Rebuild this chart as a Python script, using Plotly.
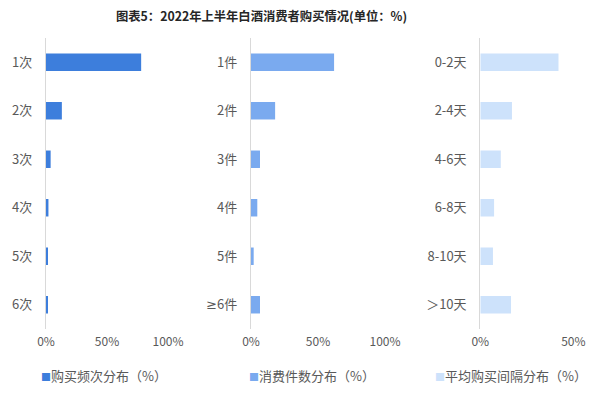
import plotly.graph_objects as go

freq_cats = ["1次", "2次", "3次", "4次", "5次", "6次"]
freq_vals = [0.78, 0.13, 0.038, 0.02, 0.01, 0.01]

qty_cats = ["1件", "2件", "3件", "4件", "5件", "≥6件"]
qty_vals = [0.62, 0.18, 0.067, 0.047, 0.02, 0.067]

gap_cats = ["0-2天", "2-4天", "4-6天", "6-8天", "8-10天", "＞10天"]
gap_vals = [0.42, 0.17, 0.11, 0.074, 0.068, 0.165]

series_names = ["购买频次分布（%）", "消费件数分布（%）", "平均购买间隔分布（%）"]
colors = ["#3d7edc", "#7aaaef", "#cde2fb"]

W, H = 600, 395
FONT = "Noto Sans CJK SC"

fig = go.Figure()
data = [(freq_cats, freq_vals), (qty_cats, qty_vals), (gap_cats, gap_vals)]
for i, (cats, vals) in enumerate(data):
    sfx = "" if i == 0 else str(i + 1)
    fig.add_trace(go.Bar(
        y=cats, x=vals, orientation="h", name=series_names[i],
        marker=dict(color=colors[i], line=dict(width=0)),
        xaxis="x" + sfx, yaxis="y" + sfx, showlegend=False,
    ))

ydom = [(H - 329) / H, (H - 38) / H]
xdoms = [(46 / W, 168 / W), (251 / W, 385 / W), (480.3 / W, 592 / W)]
xranges = [[0, 1], [0, 1], [0, 0.6]]
xticks = [[0, 0.5, 1], [0, 0.5, 1], [0, 0.5]]

layout = dict(
    width=W, height=H,
    margin=dict(l=0, r=0, t=0, b=0),
    plot_bgcolor="white", paper_bgcolor="white",
    bargap=0.64, showlegend=False,
    font=dict(family=FONT, size=12, color="#595959"),
)
for i in range(3):
    sfx = "" if i == 0 else str(i + 1)
    cats = data[i][0]
    ticktext = [c.replace("≥", "<span style='font-family:DejaVu Sans'>≥</span>") for c in cats]
    layout["xaxis" + sfx] = dict(
        domain=list(xdoms[i]), range=xranges[i], anchor="y" + sfx,
        tickvals=xticks[i], tickformat=".0%", showgrid=False, zeroline=False,
        showline=False, ticks="outside", ticklen=2, tickcolor="rgba(0,0,0,0)",
        tickfont=dict(size=12, color="#595959"), fixedrange=True,
        automargin=False,
    )
    layout["yaxis" + sfx] = dict(
        domain=ydom, anchor="x" + sfx, autorange="reversed",
        categoryorder="array", categoryarray=cats,
        tickvals=cats, ticktext=ticktext,
        showline=True, linecolor="#d9d9d9", linewidth=1.2,
        showgrid=False, zeroline=False,
        ticks="outside", ticklen=10, tickcolor="rgba(0,0,0,0)",
        tickfont=dict(size=13, color="#595959"), automargin=False,
    )

fig.update_layout(**layout)

# legend entries drawn as text: coloured square + series name
leg_x = [39, 247, 433]
for i in range(3):
    fig.add_annotation(
        text=f"<span style='color:{colors[i]};font-size:10px'>■</span>{series_names[i]}",
        x=leg_x[i] / W, y=1 - 375 / H, xref="paper", yref="paper",
        xanchor="left", yanchor="middle", showarrow=False,
        font=dict(size=13, color="#595959", family=FONT),
    )

fig.add_annotation(
    text="<b>图表5：2022年上半年白酒消费者购买情况(单位：%)</b>",
    x=261 / W, y=1 - 16 / H, xref="paper", yref="paper",
    xanchor="center", yanchor="middle", showarrow=False,
    font=dict(size=12.3, color="#262626", family=FONT),
)
fig.write_html("out.html", config={"displayModeBar": False},
               post_script="document.body.style.margin='0';")
